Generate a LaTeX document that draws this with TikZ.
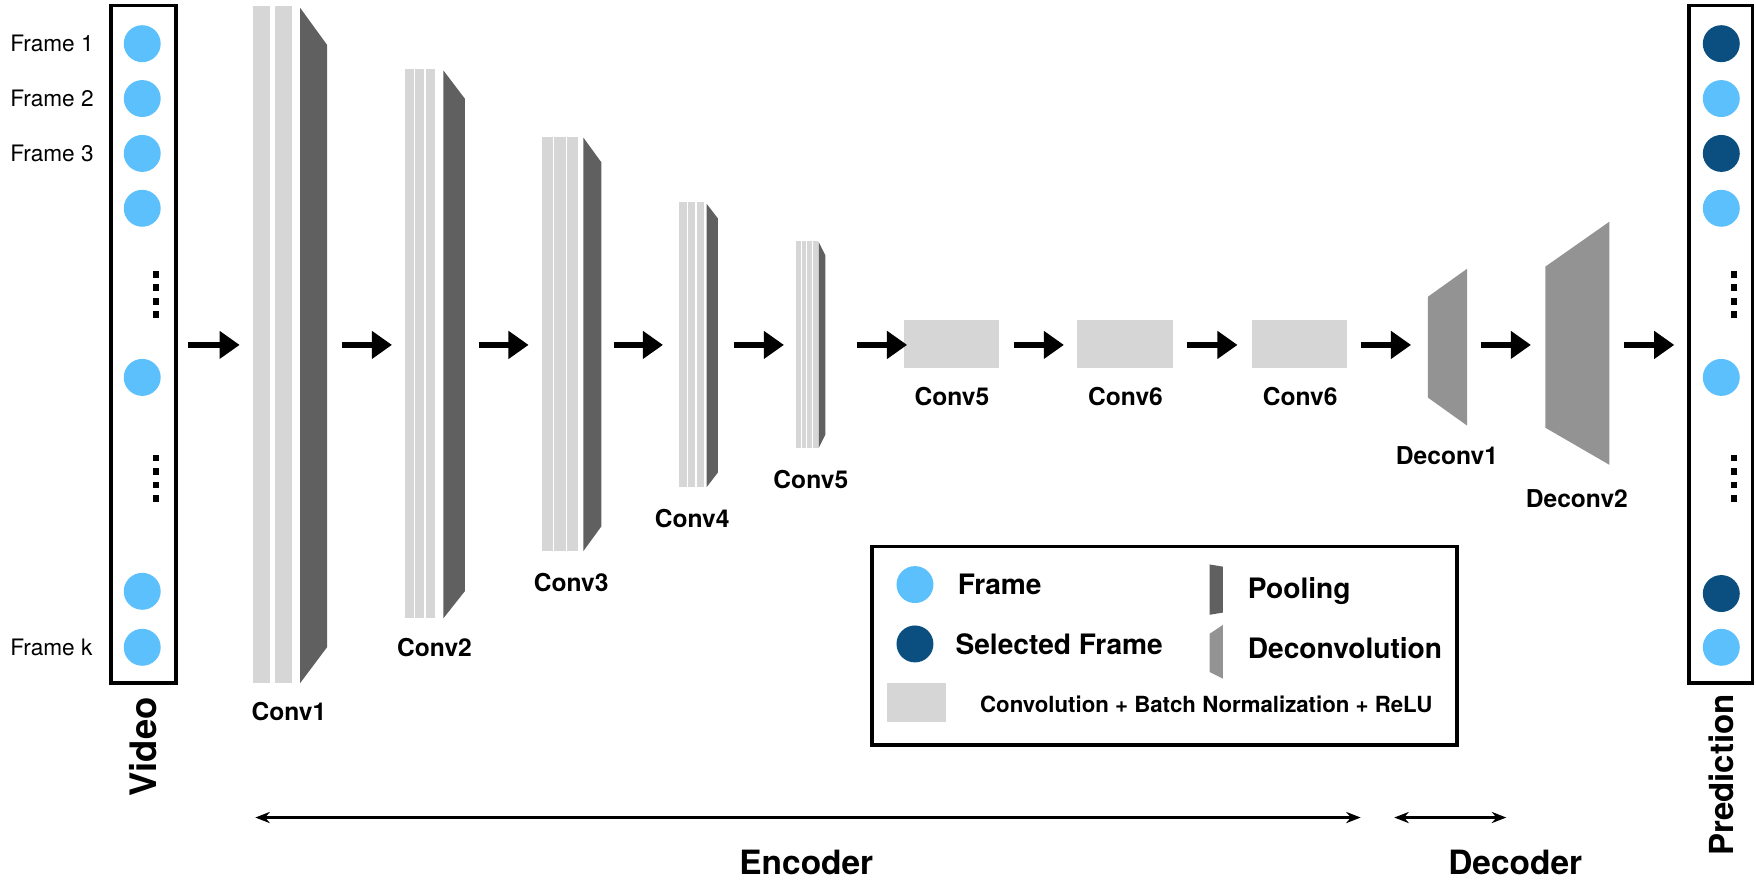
\documentclass[tikz,border=0pt]{standalone}
\usepackage{fontspec}
\setmainfont{TeX Gyre Heros}
\usetikzlibrary{arrows.meta,calc}
\definecolor{FrameClr}{RGB}{91,192,251}
\definecolor{SelClr}{RGB}{10,79,128}
\definecolor{ConvClr}{RGB}{214,214,214}
\definecolor{PoolClr}{RGB}{96,96,96}
\definecolor{DeconvClr}{RGB}{147,147,147}

\begin{document}
\begin{tikzpicture}[x=0.02cm,y=-0.02cm,
  frm/.style={circle,fill=FrameClr,minimum size=0.66cm,inner sep=0pt},
  sel/.style={circle,fill=SelClr,minimum size=0.66cm,inner sep=0pt},
  fwd/.style={line width=0.12cm,-{Triangle[length=0.36cm,width=0.48cm]}},
  span/.style={line width=0.04cm,{Stealth[length=0.26cm,width=0.2cm]}-{Stealth[length=0.26cm,width=0.2cm]}},
  lbl/.style={font=\bfseries\fontsize{12.5}{14}\selectfont},
  lgd/.style={anchor=west,font=\bfseries\fontsize{14.3}{16}\selectfont}]
\useasboundingbox (0,0) rectangle (1568,787);

% Input video and frame labels.
\draw[line width=0.06cm] (99,5) rectangle (157,610);
\foreach \i/\y in {1/39,2/88,3/137,4/186,5/337,6/528,7/578}
  \node[frm] (v\i) at (127,\y) {};
\foreach \i/\t in {1/Frame 1,2/Frame 2,3/Frame 3,7/Frame k}
  \node[anchor=west,font=\fontsize{11.5}{13}\selectfont] (fl\i) at (3,0 |- v\i) {\t};
\foreach \y in {242,254,266,278,406,418,430,442}
  \fill (137,\y) rectangle ++(5,6);
\node[rotate=90,font=\bfseries\fontsize{18.5}{20}\selectfont] (vid) at (128,667) {Video};

% Encoder: conv bars followed by pooling.
\foreach \x in {226,246} \fill[ConvClr] (\x,5) rectangle ++(15,605);
\fill[PoolClr] (268,7) -- (292,40) -- (292,578) -- (268,610) -- cycle;
\node[lbl] (c1) at (258,635) {Conv1};

\foreach \x in {362,371,380} \fill[ConvClr] (\x,62) rectangle ++(8,490);
\fill[PoolClr] (396,63) -- (415,88) -- (415,528) -- (396,552) -- cycle;
\node[lbl] (c2) at (388,578) {Conv2};

\foreach \x in {484,495,506} \fill[ConvClr] (\x,122) rectangle ++(10,370);
\fill[PoolClr] (521,123) -- (537,145) -- (537,470) -- (521,492) -- cycle;
\node[lbl] (c3) at (510,520) {Conv3};

\foreach \x in {606,614,622} \fill[ConvClr] (\x,180) rectangle ++(7,255);
\fill[PoolClr] (631,182) -- (641,195) -- (641,422) -- (631,435) -- cycle;
\node[lbl] (c4) at (618,463) {Conv4};

\foreach \x in {711,716,721,726} \fill[ConvClr] (\x,215) rectangle ++(4,185);
\fill[PoolClr] (731,216) -- (737,228) -- (737,388) -- (731,400) -- cycle;
\node[lbl] (c5) at (724,428) {Conv5};

% Plain conv blocks.
\foreach \i/\x/\t in {a/807/Conv5,b/962/Conv6,c/1118/Conv6} {
  \fill[ConvClr] (\x,286) rectangle ++(85,43);
  \node[lbl] (p\i) at (\x+43,354) {\t};
}

% Decoder.
\fill[DeconvClr] (1275,265) -- (1310,240) -- (1310,380) -- (1275,355) -- cycle;
\node[lbl] (d1) at (1292,407) {Deconv1};
\fill[DeconvClr] (1380,238) -- (1437,198) -- (1437,415) -- (1380,382) -- cycle;
\node[lbl] (d2) at (1408,445) {Deconv2};

% Forward arrows.
\foreach \i/\xa/\xb in {1/168/214,2/305/350,3/428/472,4/548/592,5/655/700,
    6/765/810,7/905/950,8/1060/1105,9/1215/1260,10/1322/1367,11/1450/1495} {
  \coordinate (s\i) at (\xa,308);
  \coordinate (e\i) at (\xb,308);
  \draw[fwd] (s\i) -- (e\i);
}

% Prediction.
\draw[line width=0.06cm] (1508,5) rectangle (1565,610);
\foreach \i/\y/\s in {1/39/sel,2/88/frm,3/137/sel,4/186/frm,5/337/frm,6/530/sel,7/578/frm}
  \node[\s] (o\i) at (1537,\y) {};
\foreach \y in {242,254,266,278,406,418,430,442}
  \fill (1546,\y) rectangle ++(5,6);
\node[rotate=90,font=\bfseries\fontsize{16.8}{18}\selectfont] (pred) at (1537,692) {Prediction};

% Legend.
\draw[line width=0.07cm] (779,488) rectangle (1301,665);
\node[frm] (lf) at (817,522) {};
\node[lgd] (lft) at (849,522) {Frame};
\node[sel] (ls) at (817,575) {};
\node[lgd] (lst) at (847,575) {Selected Frame};
\fill[PoolClr] (1080,504) -- (1092,506) -- (1092,547) -- (1080,549) -- cycle;
\node[lgd] (lp) at (1108,528) {Pooling};
\fill[DeconvClr] (1080,566) -- (1092,558) -- (1092,606) -- (1080,600) -- cycle;
\node[lgd] (ld) at (1108,579) {Deconvolution};
\fill[ConvClr] (792,610) rectangle (845,645);
\node[anchor=west,font=\bfseries\fontsize{11.3}{13}\selectfont] (lc) at (869,629) {Convolution + Batch Normalization + ReLU};

% Encoder / decoder spans.
\coordinate (enl) at (228,730);
\coordinate (enr) at (1215,730);
\draw[span] (enl) -- (enr);
\node[font=\bfseries\fontsize{17}{19}\selectfont] (enc) at (720,770) {Encoder};
\coordinate (del) at (1245,730);
\coordinate (der) at (1345,730);
\draw[span] (del) -- (der);
\node[font=\bfseries\fontsize{17}{19}\selectfont] (dec) at (1353,770) {Decoder};

\end{tikzpicture}
\end{document}
